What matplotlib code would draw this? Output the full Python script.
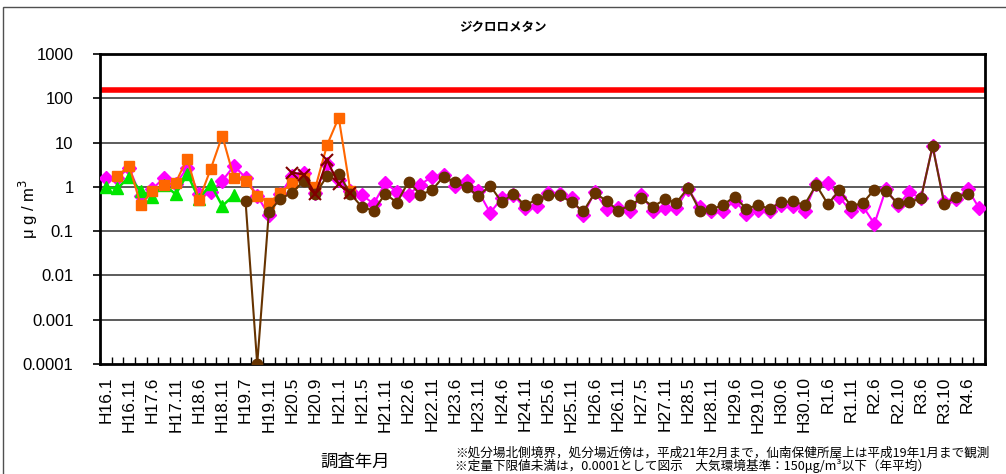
import numpy as np
import matplotlib
matplotlib.use("Agg")
import matplotlib.pyplot as plt
from matplotlib.patches import Rectangle
from matplotlib.ticker import FixedLocator, NullFormatter

plt.rcParams['font.family'] = ['Liberation Sans', 'Noto Sans CJK JP', 'DejaVu Sans']

# ---- data (μg/m3), one value per survey month, None = not measured ----
tick_labels = ['H16.1', 'H16.11', 'H17.6', 'H17.11', 'H18.6', 'H18.11', 'H19.7', 'H19.11',
               'H20.5', 'H20.9', 'H21.1', 'H21.5', 'H21.11', 'H22.6', 'H22.11', 'H23.6',
               'H23.11', 'H24.6', 'H24.11', 'H25.6', 'H25.11', 'H26.6', 'H26.11', 'H27.5',
               'H27.11', 'H28.5', 'H28.11', 'H29.6', 'H29.10', 'H30.6', 'H30.10', 'R1.6',
               'R1.11', 'R2.6', 'R2.10', 'R3.6', 'R3.10', 'R4.6']

magenta = [1.57, 1.6, 2.7, 0.62, 0.89, 1.62, 1.15, 2.73, 0.68, 0.77,
           1.37, 2.98, 1.62, 0.63, 0.23, 0.68, 1.77, 2.1, 0.74, 3.25,
           1.4, 0.8, 0.66, 0.41, 1.23, 0.76, 0.66, 1.13, 1.68, 1.87,
           1.07, 1.39, 0.79, 0.26, 0.55, 0.66, 0.33, 0.37, 0.73, 0.70,
           0.55, 0.23, 0.78, 0.31, 0.33, 0.28, 0.64, 0.29, 0.33, 0.33,
           0.90, 0.35, 0.28, 0.29, 0.49, 0.25, 0.30, 0.29, 0.39, 0.37,
           0.29, 1.17, 1.23, 0.58, 0.28, 0.37, 0.146, 0.90, 0.38, 0.76,
           0.55, 8.3, 0.45, 0.52, 0.90, 0.33]

green = [0.97, 0.92, 1.68, 0.81, 0.6, 1.13, 0.68, 1.93, 0.53, 1.15,
         0.37, 0.65] + [None] * 64

orange = [None, 1.75, 3.0, 0.39, 0.81, 1.09, 1.25, 4.36, 0.5, 2.5,
          14.2, 1.62, 1.37, 0.63, 0.44, 0.72, 1.25, 1.62, 0.97, 8.8,
          36.7, 0.81] + [None] * 54

darkred = [None] * 16 + [2.1, 1.9, 0.68, 4.0, 1.15, 0.72] + [None] * 54

brown = [None] * 12 + [0.47, 0.0001, 0.27, 0.54, 0.74, 1.37, 0.68, 1.77,
                       2.0, 0.70, 0.35, 0.29, 0.70, 0.44, 1.32, 0.67, 0.83, 1.71,
                       1.27, 0.97, 0.62, 1.07, 0.45, 0.70, 0.38, 0.52, 0.64, 0.64,
                       0.45, 0.28, 0.73, 0.48, 0.29, 0.38, 0.55, 0.36, 0.52, 0.44,
                       0.95, 0.29, 0.31, 0.39, 0.60, 0.32, 0.39, 0.32, 0.45, 0.47,
                       0.39, 1.11, 0.41, 0.83, 0.37, 0.43, 0.87, 0.79, 0.43, 0.45,
                       0.55, 8.3, 0.41, 0.58, 0.70] + [None]

standard = 150  # 大気環境基準

x = np.arange(len(magenta))

def arr(v):
    return np.array([np.nan if a is None else a for a in v], dtype=float)

fig = plt.figure(figsize=(10.06, 4.74), dpi=100)
ax = fig.add_axes([100 / 1006, 110 / 474, 885 / 1006, 310 / 474])

# outer chart frame
fig.patches.append(Rectangle((3 / 1006, -0.1), 1.2, (474 - 7) / 474 + 0.1,
                             transform=fig.transFigure, fill=False,
                             edgecolor='#505050', linewidth=1.0))

ax.set_yscale('log')
ax.set_ylim(1e-4, 1e3)
ax.set_xlim(-0.5, len(x) - 0.5)

for yv in [1e-3, 1e-2, 1e-1, 1, 10, 100]:
    ax.axhline(yv, color='#404040', linewidth=1.2, zorder=1)

ax.plot([-0.5, len(x) - 0.5], [standard, standard], color='#FF0000', linewidth=4, zorder=2)

ax.plot(x, arr(magenta), color='#FF00FF', marker='D', markersize=7, linewidth=1.5, zorder=3)
ax.plot(x, arr(green), color='#00E600', marker='^', markersize=8, linewidth=1.8, zorder=4)
ax.plot(x, arr(orange), color='#FF6600', marker='s', markersize=7.5, linewidth=1.5, zorder=5)
ax.plot(x, arr(brown), color='#663300', marker='o', markersize=7.5, linewidth=1.5, zorder=6)
ax.plot(x, arr(darkred), color='#800000', marker='x', markersize=8, markeredgewidth=1.5,
        linewidth=1.5, zorder=7)

# axes styling
for sp in ax.spines.values():
    sp.set_linewidth(2)
    sp.set_color('#000000')

ax.yaxis.set_major_locator(FixedLocator([1e-4, 1e-3, 1e-2, 1e-1, 1, 10, 100, 1000]))
ax.yaxis.set_minor_locator(FixedLocator([]))
ax.set_yticklabels(['0.0001', '0.001', '0.01', '0.1', '1', '10', '100', '1000'], fontsize=12)
ax.tick_params(axis='y', which='major', length=5, width=1.2, direction='out', pad=14)

ax.xaxis.set_major_locator(FixedLocator(x[::2]))
ax.set_xticklabels(tick_labels, rotation=90, fontsize=12.5)
ax.xaxis.set_minor_locator(FixedLocator(np.arange(-0.5, len(x), 1.0)))
ax.xaxis.set_minor_formatter(NullFormatter())
ax.tick_params(axis='x', which='major', length=0, pad=9)
ax.tick_params(axis='x', which='minor', length=5, width=1, direction='in')

ax.set_ylabel('μ g / m$^3$', fontsize=12)
ax.yaxis.set_label_coords(-0.068, 0.5)

jp = ['Noto Sans CJK JP', 'DejaVu Sans']
fig.text(503 / 1006, 1 - 27 / 474, 'ジクロロメタン', ha='center', va='center',
         fontsize=9, family=jp, fontweight='bold')
fig.text(355 / 1006, 1 - 462 / 474, '調査年月', ha='center', va='center', fontsize=12.5, family=jp)
fig.text(455 / 1006, 1 - 453 / 474,
         '※処分場北側境界，処分場近傍は，平成21年2月まで，仙南保健所屋上は平成19年1月まで観測',
         ha='left', va='center', fontsize=9.1, family=jp)
fig.text(455 / 1006, 1 - 466 / 474,
         '※定量下限値未満は，0.0001として図示　大気環境基準：150μg/m³以下（年平均）',
         ha='left', va='center', fontsize=9.1, family=jp)

fig.savefig('out.png', dpi=100)
